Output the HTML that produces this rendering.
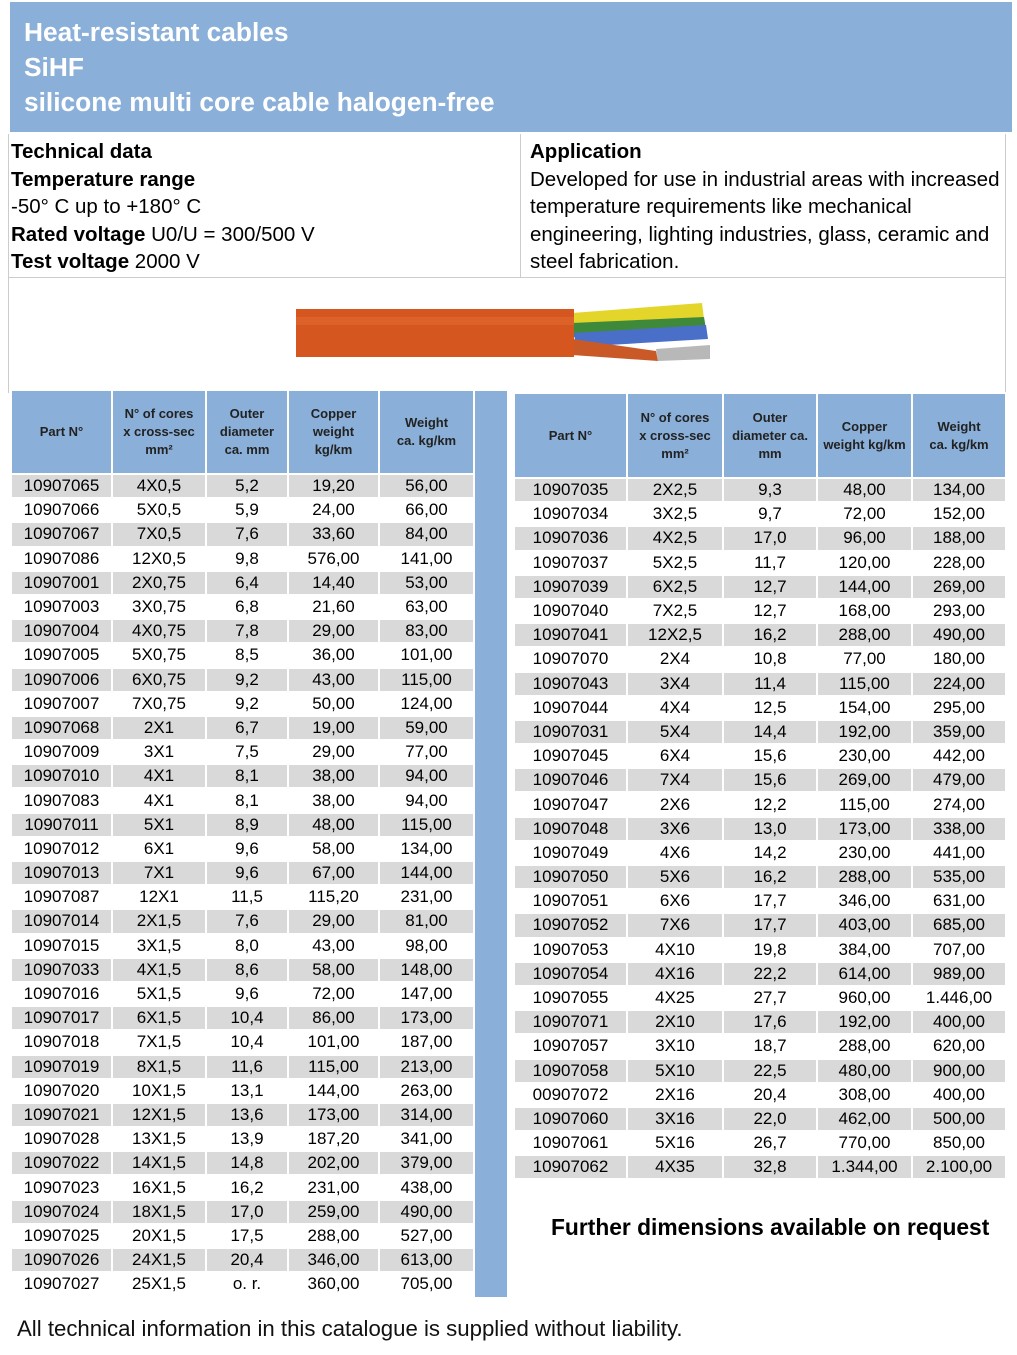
<!DOCTYPE html>
<html><head><meta charset="utf-8"><style>
body{margin:0;width:1017px;height:1355px;background:#fff;position:relative;font-family:"Liberation Sans",Arial,sans-serif;color:#000;overflow:hidden}
.abs{position:absolute}
#hdr{left:10px;top:2px;width:1002px;height:130px;background:#8aafd8;color:#fff;font-weight:bold;font-size:26.3px;line-height:35px;box-sizing:border-box;padding:13px 0 0 14px}
.box{border:1px solid #ccc;box-sizing:border-box}
.tx{font-size:20.5px;line-height:27.5px}
table{border-collapse:collapse;table-layout:fixed;position:absolute}
td{border:2px solid #fff;padding:0;text-align:center;font-size:17px;white-space:nowrap;overflow:hidden}
th{border:2px solid #fff;background:#8aafd8;font-size:13px;line-height:18px;color:#222;font-weight:bold;padding:0}
tr.g td{background:#d9d9d9}
</style></head><body>
<div id="hdr" class="abs">Heat-resistant cables<br>SiHF<br>silicone multi core cable halogen-free</div>
<div class="abs box" style="left:8px;top:134px;width:513px;height:144px;border-top:none"></div>
<div class="abs box" style="left:520px;top:134px;width:486px;height:144px;border-top:none"></div>
<div class="abs tx" style="left:11px;top:138px"><b>Technical data</b><br><b>Temperature range</b><br>-50° C up to +180° C<br><b>Rated voltage</b> U0/U = 300/500 V<br><b>Test voltage</b> 2000 V</div>
<div class="abs tx" style="left:530px;top:138px;width:480px"><b>Application</b><br>Developed for use in industrial areas with increased<br>temperature requirements like mechanical<br>engineering, lighting industries, glass, ceramic and<br>steel fabrication.</div>
<div class="abs box" style="left:8px;top:277px;width:998px;height:116px;border-bottom:none"></div>
<svg class="abs" style="left:290px;top:295px" width="430" height="75">
<polygon points="282,18 412,8 414,24 284,36" fill="#e3d52a"/>
<polygon points="282,28 414,22 416,34 284,42" fill="#3e8a3a"/>
<polygon points="284,38 416,30 418,44 286,52" fill="#4a6fc8"/>
<polygon points="282,44 366,56 368,66 282,60" fill="#c95a28"/>
<polygon points="366,54 420,50 420,64 368,66" fill="#b8b8b8"/>
<rect x="6" y="14" width="278" height="48" fill="#d6561f"/>
<rect x="6" y="22" width="278" height="8" fill="#df6a30" opacity=".6"/>
</svg>
<div class="abs" style="left:475px;top:391px;width:32px;height:906px;background:#8aafd8"></div>
<table style="left:10px;top:389px;width:463px">
<colgroup><col style="width:101px"><col style="width:94px"><col style="width:82px"><col style="width:91px"><col style="width:95px"></colgroup>
<tr style="height:84px"><th>Part N°</th><th>N° of cores<br>x cross-sec<br>mm²</th><th>Outer<br>diameter<br>ca. mm</th><th>Copper<br>weight<br>kg/km</th><th>Weight<br>ca. kg/km</th></tr>
<tr class="g" style="height:24.2px"><td>10907065</td><td>4X0,5</td><td>5,2</td><td>19,20</td><td>56,00</td></tr>
<tr style="height:24.2px"><td>10907066</td><td>5X0,5</td><td>5,9</td><td>24,00</td><td>66,00</td></tr>
<tr class="g" style="height:24.2px"><td>10907067</td><td>7X0,5</td><td>7,6</td><td>33,60</td><td>84,00</td></tr>
<tr style="height:24.2px"><td>10907086</td><td>12X0,5</td><td>9,8</td><td>576,00</td><td>141,00</td></tr>
<tr class="g" style="height:24.2px"><td>10907001</td><td>2X0,75</td><td>6,4</td><td>14,40</td><td>53,00</td></tr>
<tr style="height:24.2px"><td>10907003</td><td>3X0,75</td><td>6,8</td><td>21,60</td><td>63,00</td></tr>
<tr class="g" style="height:24.2px"><td>10907004</td><td>4X0,75</td><td>7,8</td><td>29,00</td><td>83,00</td></tr>
<tr style="height:24.2px"><td>10907005</td><td>5X0,75</td><td>8,5</td><td>36,00</td><td>101,00</td></tr>
<tr class="g" style="height:24.2px"><td>10907006</td><td>6X0,75</td><td>9,2</td><td>43,00</td><td>115,00</td></tr>
<tr style="height:24.2px"><td>10907007</td><td>7X0,75</td><td>9,2</td><td>50,00</td><td>124,00</td></tr>
<tr class="g" style="height:24.2px"><td>10907068</td><td>2X1</td><td>6,7</td><td>19,00</td><td>59,00</td></tr>
<tr style="height:24.2px"><td>10907009</td><td>3X1</td><td>7,5</td><td>29,00</td><td>77,00</td></tr>
<tr class="g" style="height:24.2px"><td>10907010</td><td>4X1</td><td>8,1</td><td>38,00</td><td>94,00</td></tr>
<tr style="height:24.2px"><td>10907083</td><td>4X1</td><td>8,1</td><td>38,00</td><td>94,00</td></tr>
<tr class="g" style="height:24.2px"><td>10907011</td><td>5X1</td><td>8,9</td><td>48,00</td><td>115,00</td></tr>
<tr style="height:24.2px"><td>10907012</td><td>6X1</td><td>9,6</td><td>58,00</td><td>134,00</td></tr>
<tr class="g" style="height:24.2px"><td>10907013</td><td>7X1</td><td>9,6</td><td>67,00</td><td>144,00</td></tr>
<tr style="height:24.2px"><td>10907087</td><td>12X1</td><td>11,5</td><td>115,20</td><td>231,00</td></tr>
<tr class="g" style="height:24.2px"><td>10907014</td><td>2X1,5</td><td>7,6</td><td>29,00</td><td>81,00</td></tr>
<tr style="height:24.2px"><td>10907015</td><td>3X1,5</td><td>8,0</td><td>43,00</td><td>98,00</td></tr>
<tr class="g" style="height:24.2px"><td>10907033</td><td>4X1,5</td><td>8,6</td><td>58,00</td><td>148,00</td></tr>
<tr style="height:24.2px"><td>10907016</td><td>5X1,5</td><td>9,6</td><td>72,00</td><td>147,00</td></tr>
<tr class="g" style="height:24.2px"><td>10907017</td><td>6X1,5</td><td>10,4</td><td>86,00</td><td>173,00</td></tr>
<tr style="height:24.2px"><td>10907018</td><td>7X1,5</td><td>10,4</td><td>101,00</td><td>187,00</td></tr>
<tr class="g" style="height:24.2px"><td>10907019</td><td>8X1,5</td><td>11,6</td><td>115,00</td><td>213,00</td></tr>
<tr style="height:24.2px"><td>10907020</td><td>10X1,5</td><td>13,1</td><td>144,00</td><td>263,00</td></tr>
<tr class="g" style="height:24.2px"><td>10907021</td><td>12X1,5</td><td>13,6</td><td>173,00</td><td>314,00</td></tr>
<tr style="height:24.2px"><td>10907028</td><td>13X1,5</td><td>13,9</td><td>187,20</td><td>341,00</td></tr>
<tr class="g" style="height:24.2px"><td>10907022</td><td>14X1,5</td><td>14,8</td><td>202,00</td><td>379,00</td></tr>
<tr style="height:24.2px"><td>10907023</td><td>16X1,5</td><td>16,2</td><td>231,00</td><td>438,00</td></tr>
<tr class="g" style="height:24.2px"><td>10907024</td><td>18X1,5</td><td>17,0</td><td>259,00</td><td>490,00</td></tr>
<tr style="height:24.2px"><td>10907025</td><td>20X1,5</td><td>17,5</td><td>288,00</td><td>527,00</td></tr>
<tr class="g" style="height:24.2px"><td>10907026</td><td>24X1,5</td><td>20,4</td><td>346,00</td><td>613,00</td></tr>
<tr style="height:24.2px"><td>10907027</td><td>25X1,5</td><td>o. r.</td><td>360,00</td><td>705,00</td></tr>
</table>
<table style="left:513px;top:392px;width:492px">
<colgroup><col style="width:113px"><col style="width:96px"><col style="width:94px"><col style="width:95px"><col style="width:94px"></colgroup>
<tr style="height:85px"><th>Part N°</th><th>N° of cores<br>x cross-sec<br>mm²</th><th>Outer<br>diameter ca.<br>mm</th><th>Copper<br>weight kg/km</th><th>Weight<br>ca. kg/km</th></tr>
<tr class="g" style="height:24.2px"><td>10907035</td><td>2X2,5</td><td>9,3</td><td>48,00</td><td>134,00</td></tr>
<tr style="height:24.2px"><td>10907034</td><td>3X2,5</td><td>9,7</td><td>72,00</td><td>152,00</td></tr>
<tr class="g" style="height:24.2px"><td>10907036</td><td>4X2,5</td><td>17,0</td><td>96,00</td><td>188,00</td></tr>
<tr style="height:24.2px"><td>10907037</td><td>5X2,5</td><td>11,7</td><td>120,00</td><td>228,00</td></tr>
<tr class="g" style="height:24.2px"><td>10907039</td><td>6X2,5</td><td>12,7</td><td>144,00</td><td>269,00</td></tr>
<tr style="height:24.2px"><td>10907040</td><td>7X2,5</td><td>12,7</td><td>168,00</td><td>293,00</td></tr>
<tr class="g" style="height:24.2px"><td>10907041</td><td>12X2,5</td><td>16,2</td><td>288,00</td><td>490,00</td></tr>
<tr style="height:24.2px"><td>10907070</td><td>2X4</td><td>10,8</td><td>77,00</td><td>180,00</td></tr>
<tr class="g" style="height:24.2px"><td>10907043</td><td>3X4</td><td>11,4</td><td>115,00</td><td>224,00</td></tr>
<tr style="height:24.2px"><td>10907044</td><td>4X4</td><td>12,5</td><td>154,00</td><td>295,00</td></tr>
<tr class="g" style="height:24.2px"><td>10907031</td><td>5X4</td><td>14,4</td><td>192,00</td><td>359,00</td></tr>
<tr style="height:24.2px"><td>10907045</td><td>6X4</td><td>15,6</td><td>230,00</td><td>442,00</td></tr>
<tr class="g" style="height:24.2px"><td>10907046</td><td>7X4</td><td>15,6</td><td>269,00</td><td>479,00</td></tr>
<tr style="height:24.2px"><td>10907047</td><td>2X6</td><td>12,2</td><td>115,00</td><td>274,00</td></tr>
<tr class="g" style="height:24.2px"><td>10907048</td><td>3X6</td><td>13,0</td><td>173,00</td><td>338,00</td></tr>
<tr style="height:24.2px"><td>10907049</td><td>4X6</td><td>14,2</td><td>230,00</td><td>441,00</td></tr>
<tr class="g" style="height:24.2px"><td>10907050</td><td>5X6</td><td>16,2</td><td>288,00</td><td>535,00</td></tr>
<tr style="height:24.2px"><td>10907051</td><td>6X6</td><td>17,7</td><td>346,00</td><td>631,00</td></tr>
<tr class="g" style="height:24.2px"><td>10907052</td><td>7X6</td><td>17,7</td><td>403,00</td><td>685,00</td></tr>
<tr style="height:24.2px"><td>10907053</td><td>4X10</td><td>19,8</td><td>384,00</td><td>707,00</td></tr>
<tr class="g" style="height:24.2px"><td>10907054</td><td>4X16</td><td>22,2</td><td>614,00</td><td>989,00</td></tr>
<tr style="height:24.2px"><td>10907055</td><td>4X25</td><td>27,7</td><td>960,00</td><td>1.446,00</td></tr>
<tr class="g" style="height:24.2px"><td>10907071</td><td>2X10</td><td>17,6</td><td>192,00</td><td>400,00</td></tr>
<tr style="height:24.2px"><td>10907057</td><td>3X10</td><td>18,7</td><td>288,00</td><td>620,00</td></tr>
<tr class="g" style="height:24.2px"><td>10907058</td><td>5X10</td><td>22,5</td><td>480,00</td><td>900,00</td></tr>
<tr style="height:24.2px"><td>00907072</td><td>2X16</td><td>20,4</td><td>308,00</td><td>400,00</td></tr>
<tr class="g" style="height:24.2px"><td>10907060</td><td>3X16</td><td>22,0</td><td>462,00</td><td>500,00</td></tr>
<tr style="height:24.2px"><td>10907061</td><td>5X16</td><td>26,7</td><td>770,00</td><td>850,00</td></tr>
<tr class="g" style="height:24.2px"><td>10907062</td><td>4X35</td><td>32,8</td><td>1.344,00</td><td>2.100,00</td></tr>
</table>
<div class="abs" style="left:551px;top:1214px;font-size:22.8px;font-weight:bold">Further dimensions available on request</div>
<div class="abs" style="left:17px;top:1316px;font-size:22.2px;color:#111">All technical information in this catalogue is supplied without liability.</div>
</body></html>
